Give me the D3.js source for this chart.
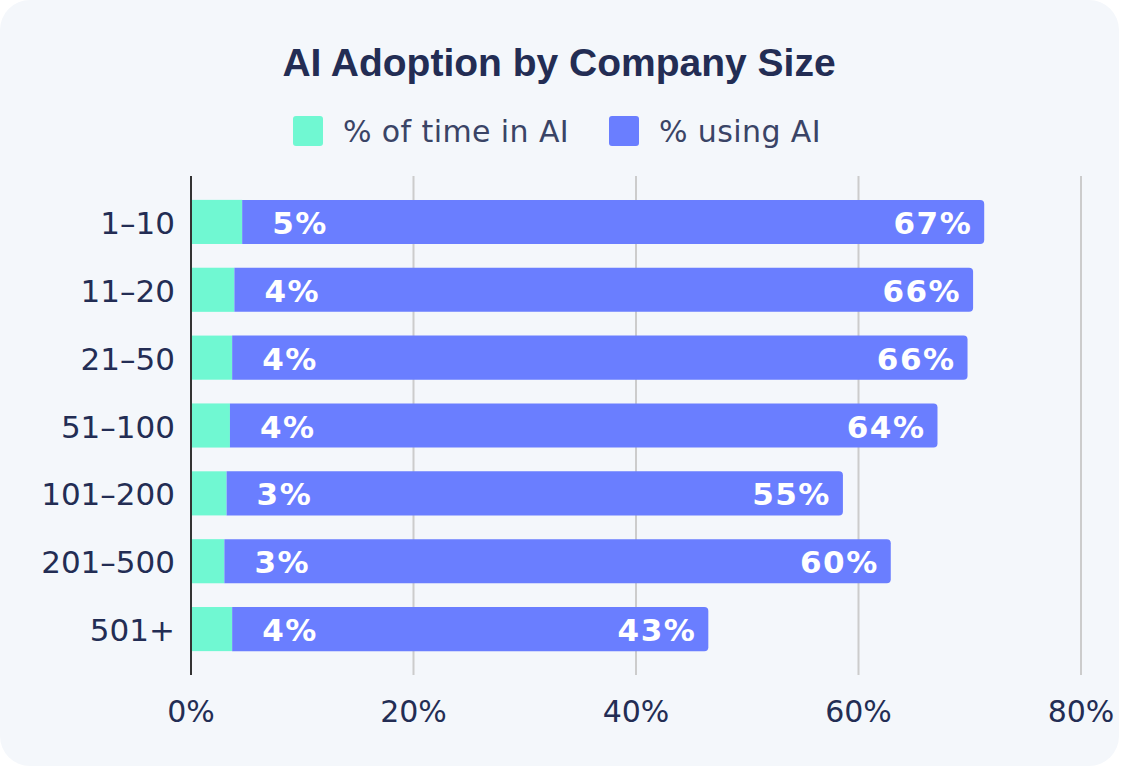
<!DOCTYPE html>
<html>
<head>
<meta charset="utf-8">
<script src="https://cdn.jsdelivr.net/npm/d3@7"></script>
<style>
  html, body { margin: 0; padding: 0; background: #ffffff; }
  svg { display: block; }
</style>
</head>
<body>
<div id="chart"></div>
<script>
const categories = ['1–10', '11–20', '21–50', '51–100', '101–200', '201–500', '501+']
const timeInAI = [4.6, 3.9, 3.7, 3.5, 3.2, 3.0, 3.7]
const usingAI = [66.7, 66.4, 66.1, 63.6, 55.4, 59.9, 42.8]
const xTicks = [0, 20, 40, 60, 80]
const seriesNames = ['% of time in AI', '% using AI']

const width = 1121, height = 768
const teal = '#70f8d2', blue = '#6a7eff'
const textCol = '#232d54'

const svg = d3.select('#chart').append('svg')
  .attr('width', width)
  .attr('height', height)

// card background
svg.append('rect')
  .attr('x', 0).attr('y', 0)
  .attr('width', 1119).attr('height', 766)
  .attr('rx', 30).attr('ry', 30)
  .style('fill', '#f4f7fb')

svg.append('text')
  .attr('x', 559).attr('y', 76)
  .style('text-anchor', 'middle')
  .style('font-family', '"Liberation Sans", Arial, sans-serif')
  .style('font-weight', 'bold')
  .style('font-size', '39px')
  .style('fill', textCol)
  .text('AI Adoption by Company Size')

// legend
const legendX = [293, 609]
const legend = svg.selectAll('.legend')
  .data(seriesNames)
  .enter().append('g')
  .attr('transform', (d, i) => `translate(${legendX[i]}, 116)`)
legend.append('rect')
  .attr('width', 30).attr('height', 30)
  .attr('rx', 3)
  .style('fill', (d, i) => i === 0 ? teal : blue)
legend.append('text')
  .attr('x', 50).attr('y', 26)
  .style('font-family', '"DejaVu Sans", Verdana, sans-serif')
  .style('font-size', '30px')
  .style('letter-spacing', '0.4px')
  .style('fill', '#3a4466')
  .text(d => d)

const x = d3.scaleLinear().domain([0, 80]).range([191, 1081])
const y = d3.scaleBand().domain(categories).range([188, 663])
  .paddingInner(0.35).paddingOuter(0.175)

// grid lines
svg.selectAll('.grid')
  .data(xTicks.slice(1))
  .enter().append('line')
  .attr('x1', d => x(d)).attr('x2', d => x(d))
  .attr('y1', 176).attr('y2', 675)
  .style('stroke', '#cccccc')
  .style('stroke-width', 2)

const rows = categories.map((c, i) => ({cat: c, t: timeInAI[i], u: usingAI[i]}))

// teal segment
svg.selectAll('.bar-time')
  .data(rows)
  .enter().append('rect')
  .attr('x', x(0))
  .attr('y', d => y(d.cat))
  .attr('width', d => x(d.t) - x(0))
  .attr('height', y.bandwidth())
  .style('fill', teal)

// blue segment, rounded on the right
const r = 4
svg.selectAll('.bar-use')
  .data(rows)
  .enter().append('path')
  .attr('d', d => {
    const x0 = x(d.t), x1 = x(d.t + d.u), y0 = y(d.cat), y1 = y0 + y.bandwidth()
    return `M${x0},${y0}H${x1 - r}Q${x1},${y0} ${x1},${y0 + r}V${y1 - r}Q${x1},${y1} ${x1 - r},${y1}H${x0}Z`
  })
  .style('fill', blue)

const labelFont = '"DejaVu Sans", Verdana, sans-serif'
svg.selectAll('.lbl-time')
  .data(rows)
  .enter().append('text')
  .attr('x', d => x(d.t) + 30)
  .attr('y', d => y(d.cat) + y.bandwidth() / 2 + 12)
  .style('font-family', labelFont)
  .style('font-weight', 'bold')
  .style('font-size', '31px')
  .style('letter-spacing', '1.5px')
  .style('fill', '#ffffff')
  .text(d => `${Math.round(d.t)}%`)

svg.selectAll('.lbl-use')
  .data(rows)
  .enter().append('text')
  .attr('x', d => x(d.t + d.u) - 12)
  .attr('y', d => y(d.cat) + y.bandwidth() / 2 + 12)
  .style('text-anchor', 'end')
  .style('font-family', labelFont)
  .style('font-weight', 'bold')
  .style('font-size', '31px')
  .style('letter-spacing', '1.5px')
  .style('fill', '#ffffff')
  .text(d => `${Math.round(d.u)}%`)

// y axis line
svg.append('line')
  .attr('x1', x(0)).attr('x2', x(0))
  .attr('y1', 176).attr('y2', 675)
  .style('stroke', '#333333')
  .style('stroke-width', 2)

// category labels
svg.selectAll('.cat')
  .data(categories)
  .enter().append('text')
  .attr('x', 175)
  .attr('y', d => y(d) + y.bandwidth() / 2 + 12)
  .style('text-anchor', 'end')
  .style('font-family', labelFont)
  .style('font-size', '31px')
  .style('fill', textCol)
  .text(d => d)

// x tick labels
svg.selectAll('.xtick')
  .data(xTicks)
  .enter().append('text')
  .attr('x', d => x(d))
  .attr('y', 722)
  .style('text-anchor', 'middle')
  .style('font-family', labelFont)
  .style('font-size', '30px')
  .style('fill', textCol)
  .text(d => `${d}%`)
</script>
</body>
</html>
